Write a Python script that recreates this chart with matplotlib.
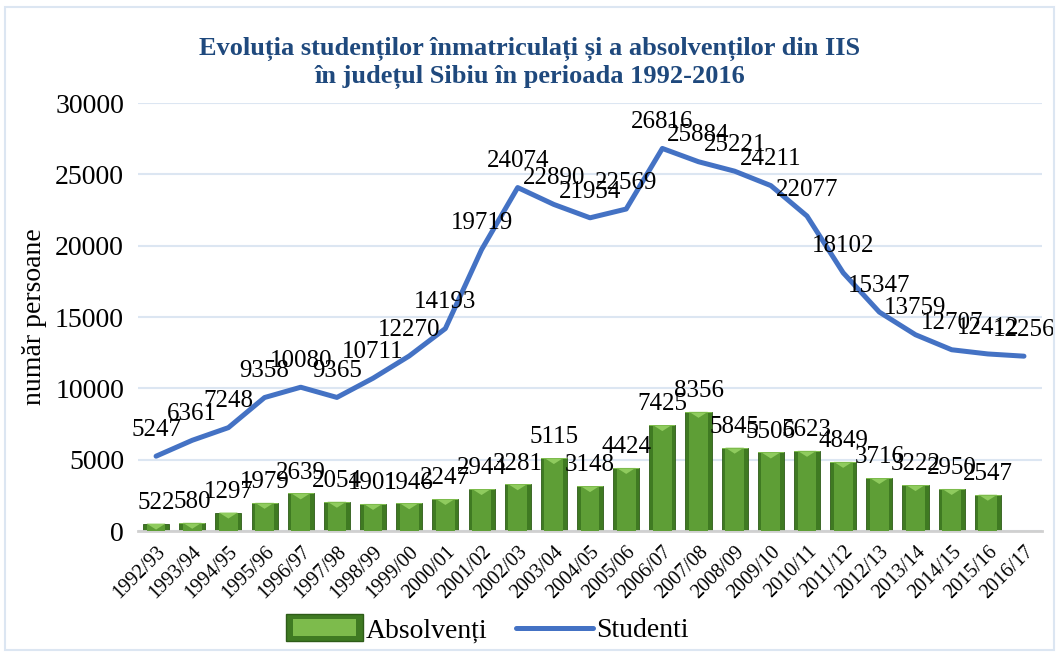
import matplotlib
matplotlib.use("Agg")
import matplotlib.pyplot as plt
from matplotlib.patches import Rectangle, Polygon
from matplotlib.legend_handler import HandlerPatch

plt.rcParams['font.family'] = ['Liberation Serif', 'DejaVu Serif']

years = ["1992/93", "1993/94", "1994/95", "1995/96", "1996/97", "1997/98", "1998/99",
         "1999/00", "2000/01", "2001/02", "2002/03", "2003/04", "2004/05", "2005/06",
         "2006/07", "2007/08", "2008/09", "2009/10", "2010/11", "2011/12", "2012/13",
         "2013/14", "2014/15", "2015/16", "2016/17"]
studenti = [5247, 6361, 7248, 9358, 10080, 9365, 10711, 12270, 14193, 19719, 24074,
            22890, 21954, 22569, 26816, 25884, 25221, 24211, 22077, 18102, 15347,
            13759, 12707, 12412, 12256]
absolventi = [522, 580, 1297, 1979, 2639, 2054, 1901, 1946, 2247, 2944, 3281, 5115,
              3148, 4424, 7425, 8356, 5845, 5506, 5623, 4849, 3716, 3222, 2950, 2547]

title = "Evoluția studenților înmatriculați și a absolvenților din IIS\nîn județul Sibiu în perioada 1992-2016"

fig = plt.figure(figsize=(10.59, 6.54), dpi=100)
ax = fig.add_axes([0.1303, 0.188, 0.8537, 0.6545])

# outer chart border
fig.patches.append(Rectangle((0.005, 0.006), 0.99, 0.984, transform=fig.transFigure,
                             fill=False, edgecolor='#DCE6F2', linewidth=1.5))

x_bar = list(range(len(absolventi)))
x_line = list(range(len(studenti)))
bw = 0.72

# bevelled green bars
bars = ax.bar(x_bar, absolventi, width=bw, color='#3F7A22', edgecolor='#2E5C18',
              linewidth=0.6, zorder=2, label='Absolvenți')
ax.bar(x_bar, absolventi, width=bw * 0.72, color='#5E9E36', linewidth=0, zorder=3)
for xi, v in zip(x_bar, absolventi):
    tri_h = min(v, 420)
    ax.add_patch(Polygon([(xi - bw * 0.36, v), (xi + bw * 0.36, v), (xi, v - tri_h)],
                         closed=True, facecolor='#8FCB5E', edgecolor='none', zorder=4))
    ax.add_patch(Rectangle((xi - bw / 2, v - 60), bw, 60, facecolor='#7DBB4C',
                           edgecolor='none', zorder=4))
    ax.annotate(f"{v}", (xi, v), xytext=(0, 7), textcoords='offset points',
                ha='center', va='bottom', fontsize=18, zorder=6)

line, = ax.plot(x_line, studenti, color='#4472C4', linewidth=3.6, zorder=5,
                solid_capstyle='round', label='Studenti')
for xi, v in zip(x_line, studenti):
    ax.annotate(f"{v}", (xi, v), xytext=(0, 11), textcoords='offset points',
                ha='center', va='bottom', fontsize=18, zorder=6)

ax.set_xlim(-0.5, 24.5)
ax.set_ylim(0, 30000)
ax.set_yticks(range(0, 30001, 5000))
ax.tick_params(axis='y', labelsize=20, length=0, pad=10)
ax.set_xticks(x_line)
ax.set_xticklabels(years, rotation=45, ha='right', rotation_mode='anchor', fontsize=14.5)
ax.tick_params(axis='x', length=0, pad=8)
ax.grid(axis='y', color='#DCE6F2', linewidth=1.5, zorder=0)
ax.set_axisbelow(True)
for s in ['top', 'right', 'left']:
    ax.spines[s].set_visible(False)
ax.spines['bottom'].set_color('#D0D0D0')
ax.spines['bottom'].set_linewidth(2)
ax.set_ylabel("număr persoane", fontsize=20, labelpad=6)

fig.suptitle(title, fontsize=19, fontweight='bold', color='#1F497D', y=0.943,
             linespacing=1.2)


class BevelHandler(HandlerPatch):
    def create_artists(self, legend, orig_handle, xdescent, ydescent, width, height,
                       fontsize, trans):
        outer = Rectangle((-xdescent, -ydescent - height * 0.2), width, height * 1.4,
                          facecolor='#3F7A22', edgecolor='#2E5C18', transform=trans)
        inner = Rectangle((-xdescent + width * 0.1, -ydescent + height * 0.05),
                          width * 0.8, height * 0.9,
                          facecolor='#7DBB4C', edgecolor='none', transform=trans)
        return [outer, inner]


leg = fig.legend([bars.patches[0], line], ['Absolvenți', 'Studenti'],
                 loc='lower center', bbox_to_anchor=(0.46, -0.022), ncol=2, frameon=False,
                 fontsize=20, handlelength=2.8, handletextpad=0.1, columnspacing=1.0,
                 handler_map={bars.patches[0]: BevelHandler()})

fig.savefig("out.png", dpi=100)
